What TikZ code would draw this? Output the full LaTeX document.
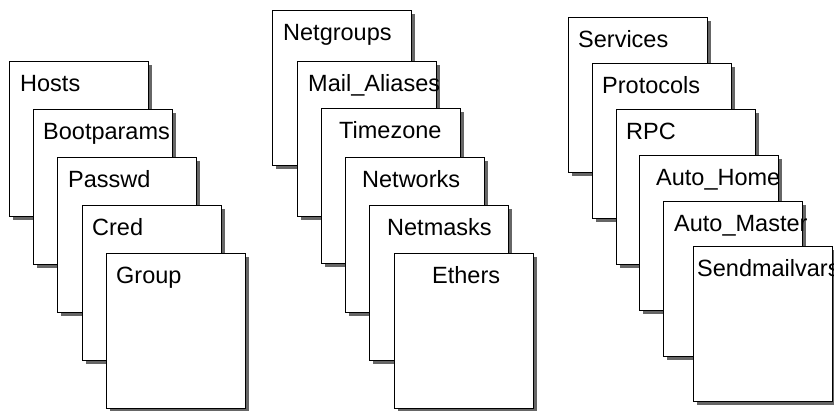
\documentclass[tikz,border=0pt]{standalone}
\usepackage{fontspec}
\newfontfamily\cardfont{Liberation Sans}
\usetikzlibrary{shadows}
\tikzset{
  card/.style={draw, line width=1.3pt, fill=white, anchor=north west,
    minimum width=139pt, minimum height=155pt, inner sep=0pt,
    drop shadow={shadow xshift=3.5pt, shadow yshift=-3.5pt, fill=black, opacity=0.6}},
  cardlabel/.style={anchor=base west, inner sep=0pt,
    font=\cardfont\fontsize{23.5}{28}\selectfont}
}
\newcommand{\NisMap}[5]{
  \node [card] (#1) at (#3, #4) {};
  \node [cardlabel] (#1-label) at ([xshift=#5pt, yshift=-30pt]#1.north west) {#2};
}

\begin{document}
\begin{tikzpicture}[x=1pt, y=-1pt]
        \useasboundingbox (0,0) rectangle (834,410);

        % Hosts-Group column
        \NisMap{hosts}{Hosts}{9}{61}{11}
        \NisMap{bootparams}{Bootparams}{33}{109}{10}
        \NisMap{passwd}{Passwd}{57}{157}{11}
        \NisMap{cred}{Cred}{82}{205}{10}
        \NisMap{group}{Group}{106}{253}{10}

        % Netgroups-Ethers column
        \NisMap{netgroups}{Netgroups}{272}{10}{11}
        \NisMap{mailaliases}{Mail\_Aliases}{297}{61}{11}
        \NisMap{timezone}{Timezone}{321}{108}{18}
        \NisMap{networks}{Networks}{345}{157}{17}
        \NisMap{netmasks}{Netmasks}{369}{205}{18}
        \NisMap{ethers}{Ethers}{394}{253}{38}

        % Services-Sendmailvars column
        \NisMap{services}{Services}{568}{17}{10}
        \NisMap{protocols}{Protocols}{592}{63}{10}
        \NisMap{rpc}{RPC}{616}{109}{10}
        \NisMap{autohome}{Auto\_Home}{639}{155}{17}
        \NisMap{automaster}{Auto\_Master}{663}{201}{11}
        \NisMap{sendmailvars}{Sendmailvars}{693}{246}{4}

\end{tikzpicture}
\end{document}
